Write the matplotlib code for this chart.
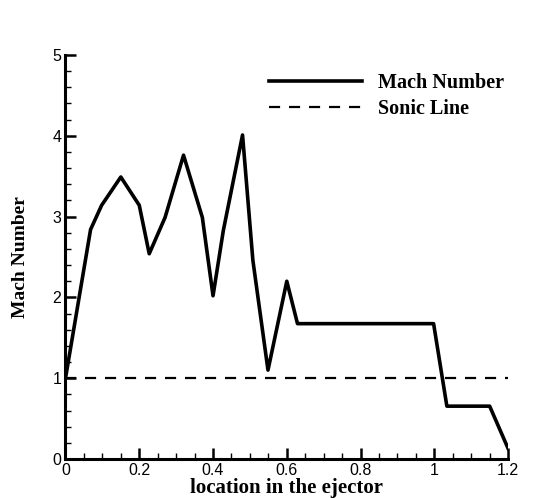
import numpy as np
import matplotlib.pyplot as plt
from matplotlib.ticker import MultipleLocator

# valores
ubicacion = [0.0, 0.068, 0.098, 0.15, 0.2, 0.227, 0.27, 0.32, 0.371, 0.4, 0.428,
             0.48, 0.508, 0.549, 0.6, 0.629, 0.998, 1.034, 1.15, 1.2]
mach = [1.0, 2.84, 3.14, 3.49, 3.14, 2.54, 2.99, 3.76, 2.99, 2.02, 2.83,
        4.01, 2.46, 1.10, 2.2, 1.675, 1.675, 0.654, 0.654, 0.13]
sonica_x = [0.0, 1.2]
sonica_y = [1.0, 1.0]

fig = plt.figure(figsize=(5.44, 4.98), dpi=100)
ax = fig.add_axes([0.1204, 0.0783, 0.934 - 0.1204, 0.8896 - 0.0783])

ax.plot(ubicacion, mach, color='black', lw=2.6, label='Mach Number')
ax.plot(sonica_x, sonica_y, color='black', lw=1.6, ls=(0, (5, 4)), label='Sonic Line')

ax.set_xlim(0, 1.2)
ax.set_ylim(0, 5)
ax.xaxis.set_major_locator(MultipleLocator(0.2))
ax.xaxis.set_minor_locator(MultipleLocator(0.05))
ax.yaxis.set_major_locator(MultipleLocator(1))
ax.yaxis.set_minor_locator(MultipleLocator(0.2))
ax.set_xticks([0, 0.2, 0.4, 0.6, 0.8, 1.0, 1.2])
ax.set_xticklabels(['0', '0.2', '0.4', '0.6', '0.8', '1', '1.2'])

for lado in ['top', 'right']:
    ax.spines[lado].set_visible(False)
for lado in ['left', 'bottom']:
    ax.spines[lado].set_linewidth(2.2)

ax.tick_params(which='major', direction='in', length=8, width=1.8,
               labelsize=11.5, pad=3)
ax.tick_params(which='minor', direction='in', length=4.5, width=1.0)
for t in ax.get_xticklabels() + ax.get_yticklabels():
    t.set_family('Liberation Sans')

ax.set_xlabel('location in the ejector', family='Liberation Serif',
              weight='bold', size=15, labelpad=0)
ax.set_ylabel('Mach Number', family='Liberation Serif',
              weight='bold', size=14, labelpad=17)

ax.legend(loc='upper left', bbox_to_anchor=(0.419, 1.0), frameon=False,
          prop={'family': 'Liberation Serif', 'weight': 'bold', 'size': 14.5},
          handlelength=4.6, handletextpad=0.8, labelspacing=0.3)

fig.savefig('out.png', dpi=100)
